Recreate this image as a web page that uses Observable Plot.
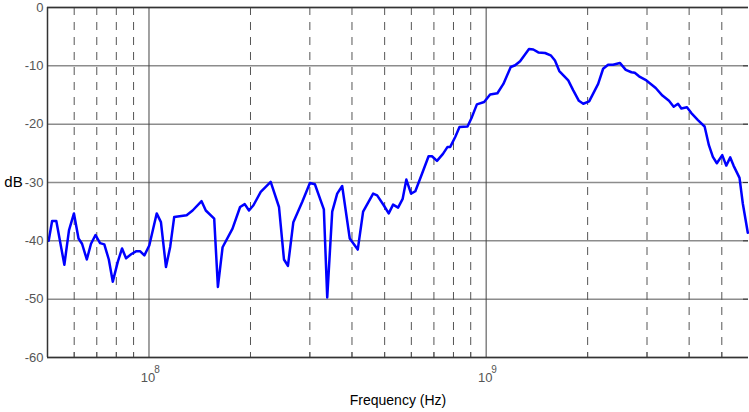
<!DOCTYPE html>
<html>
<head>
<meta charset="utf-8">
<script src="https://cdn.jsdelivr.net/npm/d3@7"></script>
<script src="https://cdn.jsdelivr.net/npm/@observablehq/plot@0.6"></script>
<style>
  html, body { margin: 0; padding: 0; background: #fff; }
  svg { display: block; }
</style>
</head>
<body>
<div id="chart"></div>
<script>
// Frequency in MHz and level in dB
const freqMHz = [50.4, 51.6, 53.1, 56.1, 57.9, 59.9, 61.8, 63.3, 65.4, 67.3,
  69.4, 71.6, 73.7, 76.0, 78.1, 80.8, 83.2, 85.5, 88.5, 91.5,
  94.2, 96.9, 100.2, 105.4, 108.5, 112.3, 115.6, 118.8, 129.3, 134.7,
  143.2, 147.4, 156.1, 160.1, 165.3, 176.9, 186.3, 192.3, 198.0, 204.1,
  214.5, 229.6, 243.0, 251.4, 258.3, 268.0, 284.9, 300.1, 310.5, 330.1,
  337.8, 349.5, 361.6, 374.1, 394.0, 416.1, 431.6, 462.2, 475.0, 496.8,
  514.0, 529.7, 548.0, 565.5, 579.9, 598.8, 616.5, 645.3, 675.0, 690.8,
  714.8, 744.6, 768.3, 782.5, 809.6, 833.7, 880.5, 907.2, 938.7, 986.5,
  1027.6, 1080, 1125, 1183, 1219, 1261, 1340, 1380, 1428, 1495,
  1554, 1600, 1648, 1752, 1813, 1884, 1941, 2021, 2149, 2223,
  2300, 2380, 2492, 2595, 2698, 2759, 2841, 2988, 3184, 3333,
  3486, 3600, 3707, 3793, 3941, 4061, 4248, 4446, 4578, 4704,
  4834, 5015, 5154, 5297, 5417, 5643, 5771, 5971];
const levelDB = [-40.0, -36.6, -36.6, -44.1, -38.2, -35.3, -39.6, -40.5, -43.2, -40.5,
  -39.0, -40.4, -40.6, -43.2, -47.0, -43.6, -41.3, -43.0, -42.3, -41.8,
  -41.8, -42.5, -40.8, -35.3, -36.8, -44.5, -41.0, -35.9, -35.6, -34.8,
  -33.2, -34.8, -36.2, -47.9, -41.1, -37.9, -34.2, -33.7, -34.8, -33.9,
  -31.6, -29.9, -34.2, -43.2, -44.3, -36.8, -33.3, -30.1, -30.3, -34.6,
  -49.7, -35.0, -31.9, -30.6, -39.6, -41.5, -35.0, -31.9, -32.2, -33.9,
  -35.3, -33.8, -34.3, -32.8, -29.5, -31.9, -31.5, -28.5, -25.5, -25.5,
  -26.3, -25.1, -23.9, -23.9, -22.2, -20.5, -20.4, -18.8, -16.6, -16.2,
  -14.9, -14.7, -13.1, -10.2, -9.9, -9.2, -7.1, -7.2, -7.7, -7.8,
  -8.2, -9.1, -10.9, -12.5, -14.2, -16.0, -16.5, -16.1, -13.1, -10.5,
  -9.8, -9.8, -9.5, -10.7, -11.1, -11.2, -11.8, -12.5, -13.8, -15.1,
  -16.0, -17.0, -16.5, -17.3, -17.1, -18.1, -19.3, -20.4, -23.6, -25.6,
  -26.7, -25.3, -27.1, -25.7, -27.1, -29.2, -33.6, -38.6];

const yTicks = [0, -10, -20, -30, -40, -50, -60];
const majorX = [1e8, 1e9];
const minorX = [6e7, 7e7, 8e7, 9e7, 2e8, 3e8, 4e8, 5e8, 6e8, 7e8, 8e8, 9e8, 2e9, 3e9, 4e9, 5e9];
const xDomain = [5e7, 6e9];
const yDomain = [-60, 0];
const xLabel = "Frequency (Hz)";
const yLabel = "dB";

const data = freqMHz.map((f, i) => ({freq: f * 1e6, db: levelDB[i]}));

const chart = Plot.plot({
  width: 749,
  height: 412,
  marginLeft: 47,
  marginRight: 1,
  marginTop: 7,
  marginBottom: 55,
  x: {type: "log", domain: xDomain},
  y: {domain: yDomain},
  style: {fontFamily: "'Liberation Sans', Arial, sans-serif", background: "#fff"},
  marks: [
    Plot.ruleY(yTicks, {stroke: "#8c8c8c", strokeWidth: 1.5}),
    Plot.ruleX(minorX, {stroke: "#555", strokeWidth: 1, strokeDasharray: "8,7"}),
    Plot.ruleX(minorX, {stroke: "#555", strokeWidth: 1, insetTop: 345}),
    Plot.ruleX(majorX, {stroke: "#444", strokeWidth: 1}),
    Plot.ruleY(yTicks, {stroke: "#333", strokeWidth: 1, insetLeft: 696}),
    Plot.line(data, {x: "freq", y: "db", stroke: "#0000ff", strokeWidth: 2.5}),
    Plot.ruleX([xDomain[0]], {stroke: "#333", strokeWidth: 1.5}),
    Plot.ruleY([yDomain[0], yDomain[1]], {stroke: "#333", strokeWidth: 1.5}),
    Plot.axisY({ticks: yTicks, tickSize: 0, tickPadding: 4, tickFormat: d => String(d), fontSize: 13, color: "#555", label: null}),
    Plot.axisX({ticks: majorX, tickSize: 0, tickPadding: 15, tickFormat: () => "10", fontSize: 13, color: "#555", label: null, dx: -1}),
    Plot.text(majorX, {x: d => d, frameAnchor: "bottom", text: d => String(Math.round(Math.log10(d))), dx: 8, dy: 8, lineAnchor: "top", fontSize: 10, fill: "#555"}),
    Plot.text([yLabel], {frameAnchor: "left", text: d => d, dx: -34, fontSize: 15, fill: "#000", textAnchor: "middle"}),
    Plot.text([xLabel], {frameAnchor: "bottom", text: d => d, dy: 43, fontSize: 14, fill: "#000", textAnchor: "middle", lineAnchor: "middle"})
  ]
});
document.getElementById("chart").append(chart);
</script>
</body>
</html>
